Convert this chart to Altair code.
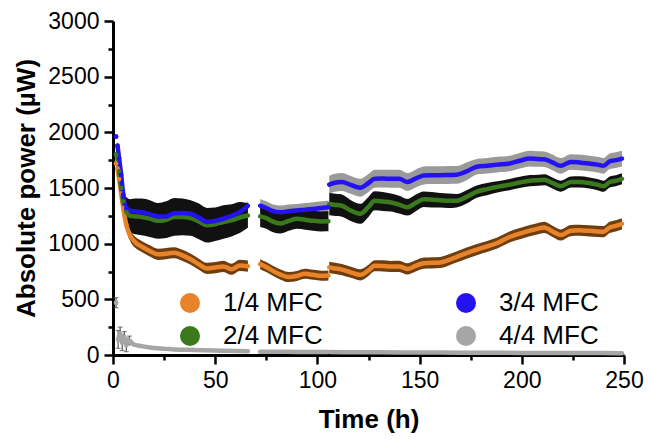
import altair as alt
import pandas as pd

SERIES = ["1/4 MFC", "2/4 MFC", "3/4 MFC", "4/4 MFC"]

# common time grid (h) for 1/4, 2/4, 3/4 MFC
T = [1.5, 2.2, 3, 4, 5, 6.5, 8.5, 11, 14, 18, 22, 26, 30, 34, 38, 42, 46, 50, 54, 58, 62, 66,
     72, 75, 78, 82, 86, 90, 94, 98, 102, 105.4,
     105.8, 108, 112, 116, 121, 125, 128, 132, 136, 140, 144, 148, 152, 156, 160, 164, 168, 173,
     178, 183, 188, 194, 199, 204, 208, 211, 215, 219, 224, 228, 233, 237, 240, 243, 246, 249]

# 1/4 MFC mean and SEM (µW)
V1 = [1720, 1676, 1580, 1450, 1320, 1170, 1070, 1010, 975, 935, 904, 910, 918, 895, 860, 815, 778, 785, 796, 770, 805, 798,
      816, 790, 758, 722, 700, 710, 729, 720, 712, 714,
      787, 780, 767, 745, 720, 760, 802, 800, 795, 796, 773, 800, 825, 828, 831, 852, 880, 915,
      947, 975, 1006, 1060, 1090, 1117, 1135, 1146, 1110, 1078, 1117, 1120, 1115, 1110, 1108, 1146, 1160, 1178]
E1 = [50] * 22 + [45] * 10 + [50] * 36

# 2/4 MFC
V2 = [1800, 1766, 1650, 1500, 1380, 1290, 1250, 1245, 1240, 1225, 1205, 1215, 1240, 1240, 1230, 1200, 1166, 1175, 1195, 1210, 1235, 1253,
      1245, 1230, 1200, 1181, 1205, 1224, 1215, 1205, 1200, 1201,
      1356, 1350, 1341, 1300, 1268, 1330, 1385, 1378, 1370, 1350, 1327, 1365, 1399, 1395, 1390, 1385, 1385, 1420,
      1467, 1490, 1510, 1530, 1550, 1566, 1570, 1574, 1545, 1516, 1554, 1555, 1545, 1530, 1516, 1554, 1565, 1583]
E2 = [40, 50, 60, 80, 100, 130, 150, 160, 165, 165, 160, 165, 170, 165, 160, 160, 155, 150, 150, 145, 140, 110,
      95, 95, 95, 90, 90, 90, 90, 90, 90, 90,
      100, 100, 100, 95, 90, 90, 85, 85, 80, 80, 75, 75, 70, 70, 65, 65, 60, 60,
      55, 55, 50, 50, 50, 50, 50, 50, 50, 50, 50, 50, 50, 50, 50, 50, 50, 50]

# 3/4 MFC
V3 = [1962, 1880, 1764, 1618, 1443, 1320, 1297, 1290, 1283, 1265, 1245, 1245, 1274, 1275, 1268, 1235, 1195, 1205, 1224, 1250, 1283, 1341,
      1341, 1320, 1295, 1283, 1292, 1297, 1305, 1312, 1320, 1327,
      1530, 1545, 1554, 1530, 1502, 1545, 1583, 1585, 1583, 1583, 1554, 1585, 1612, 1615, 1615, 1617, 1618, 1650,
      1691, 1700, 1710, 1720, 1745, 1764, 1760, 1758, 1730, 1699, 1734, 1730, 1720, 1710, 1699, 1740, 1750, 1764]
E3 = [40] * 22 + [60] * 10 + [80] * 18 + [70] * 18

# 4/4 MFC
T4 = [1.5, 2.5, 3.5, 4.5, 5.5, 6.5, 8, 10, 14, 18, 22, 26, 30, 40, 50, 60, 66,
      72, 80, 90, 100, 105,
      106, 120, 140, 160, 180, 200, 220, 240, 249]
V4 = [470, 140, 190, 110, 160, 90, 130, 95, 80, 68, 60, 55, 50, 45, 40, 36, 34,
      30, 29, 28, 27, 27,
      26, 25, 23, 22, 20, 19, 18, 17, 16]
E4 = [45, 80, 60, 70, 50, 60, 40, 10, 5, 5, 5, 5, 5, 5, 5, 5, 5,
      5, 5, 5, 5, 5,
      5, 5, 5, 5, 5, 5, 5, 5, 5]

LINE_COLORS = ["#e8832a", "#3a7a1c", "#2412f2", "#a6a6a6"]
BAND_COLORS = {"1/4 MFC": "#6e3e0e", "2/4 MFC": "#111111", "3/4 MFC": "#9a9a9a"}


def seg_of(t):
    if t < 2:
        return 0
    return 1 if t < 69 else (2 if t < 105.6 else 3)


rows = []
for name, vals, errs in [(SERIES[0], V1, E1), (SERIES[1], V2, E2), (SERIES[2], V3, E3)]:
    for t, v, e in zip(T, vals, errs):
        rows.append(dict(series=name, t=t, v=v, lo=v - e, hi=v + e, seg=seg_of(t)))
for t, v, e in zip(T4, V4, E4):
    rows.append(dict(series=SERIES[3], t=t, v=v, lo=v - e, hi=v + e, seg=seg_of(t)))
df = pd.DataFrame(rows)

FONT = "Liberation Sans"
xs = alt.Scale(domain=[0, 250], nice=False)
ys = alt.Scale(domain=[0, 3000], nice=False)

xaxis = alt.Axis(
    values=list(range(0, 251, 25)),
    labelExpr="datum.value % 50 === 0 ? datum.label : ''",
    tickSize={"condition": {"test": "datum.value % 50 === 0", "value": 9}, "value": 5},
    title="Time (h)", labelFlush=False, labelOverlap=False, labelPadding=5, titlePadding=14,
)
yaxis = alt.Axis(
    values=list(range(0, 3001, 250)),
    labelExpr="datum.value % 500 === 0 ? datum.label : ''",
    tickSize={"condition": {"test": "datum.value % 500 === 0", "value": 9}, "value": 5},
    title="Absolute power (µW)", labelOverlap=False, labelPadding=5, titlePadding=8,
    format="d", labelFlush=False,
)

X = alt.X("t:Q", scale=xs, axis=xaxis)
base = alt.Chart(df)

bands = []
for name in ["3/4 MFC", "2/4 MFC", "1/4 MFC"]:
    bands.append(
        base.transform_filter((alt.datum.series == name) & (alt.datum.seg > 0))
        .mark_area(color=BAND_COLORS[name], opacity=1, interpolate="monotone")
        .encode(x=X, y=alt.Y("lo:Q", scale=ys, axis=yaxis), y2="hi:Q", detail="seg:N")
    )

line_scale = alt.Scale(domain=SERIES, range=LINE_COLORS)
dot_scale = alt.Scale(domain=SERIES, range=LINE_COLORS)

errbars = (
    base.transform_filter((alt.datum.series == "4/4 MFC") & (alt.datum.t <= 8))
    .mark_errorbar(ticks=True, color="#555555", thickness=1.2)
    .encode(x=X, y=alt.Y("lo:Q", scale=ys, axis=yaxis), y2="hi:Q")
)

lines = base.mark_line(strokeWidth=4.5, strokeJoin="round", strokeCap="round",
                       interpolate="monotone").encode(
    x=X,
    y=alt.Y("v:Q", scale=ys, axis=yaxis),
    color=alt.Color("series:N", scale=line_scale, legend=None),
    detail="seg:N",
)

dots = base.transform_filter(alt.datum.t <= 8).mark_circle(size=22, opacity=1).encode(
    x=X,
    y=alt.Y("v:Q", scale=ys, axis=yaxis),
    fill=alt.Fill(
        "series:N",
        scale=dot_scale,
        legend=alt.Legend(
            title=None, orient="none", legendX=64, legendY=269, columns=2,
            columnPadding=130, rowPadding=7, symbolSize=400, symbolType="circle",
            labelFontSize=26, labelFont=FONT, labelOffset=20, padding=0,
            labelColor="black", symbolStrokeWidth=0, symbolOpacity=1, direction="vertical",
        ),
    ),
)

chart = (
    alt.layer(*bands, errbars, lines, dots)
    .resolve_scale(color="independent", fill="independent")
    .properties(width=511, height=334, autosize=alt.AutoSizeParams(type="none"),
                padding={"left": 105, "top": 13, "right": 21, "bottom": 81})
    .configure_view(stroke=None)
    .configure_axis(
        domainColor="black", domainWidth=3, tickColor="black", tickWidth=2.5,
        labelFont=FONT, labelFontSize=23, labelColor="black",
        titleFont=FONT, titleFontSize=26, titleFontWeight="bold", titleColor="black",
        grid=False,
    )
)

chart.save("out.html", embed_options={"renderer": "svg", "actions": False})
